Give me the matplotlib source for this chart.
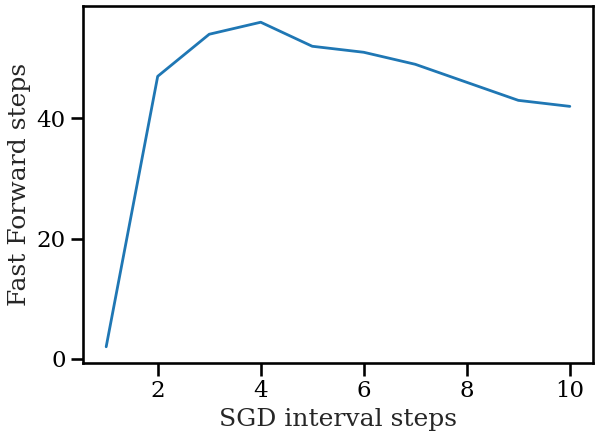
import matplotlib
matplotlib.use("Agg")
import matplotlib.pyplot as plt
import seaborn as sns

sgd_interval = [1, 2, 3, 4, 5, 6, 7, 8, 9, 10]
ff_steps = [2, 47, 54, 56, 52, 51, 49, 46, 43, 42]

sns.set_theme(context="talk", style="ticks")
plt.rcParams['font.family'] = ['DejaVu Serif']

fig = plt.figure(figsize=(5.97, 4.36), dpi=100)
ax = fig.add_axes([83/597, 1 - 363/436, (593 - 83)/597, (363 - 6)/436])
ax.plot(sgd_interval, ff_steps, color="#1f77b4", linewidth=2.0)
ax.set_xlabel("SGD interval steps")
ax.set_ylabel("Fast Forward steps")
ax.set_xticks([2, 4, 6, 8, 10])
ax.set_yticks([0, 20, 40])
for s in ax.spines.values():
    s.set_color("black")
ax.tick_params(colors="black")
fig.savefig("out.png", dpi=100)
